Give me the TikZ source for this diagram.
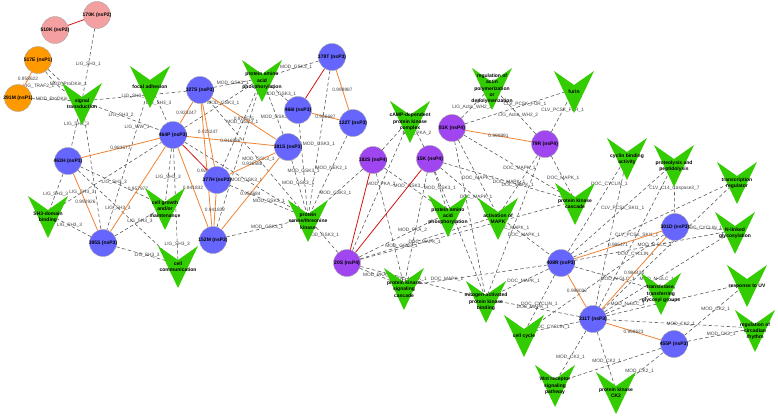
\documentclass[tikz,border=0pt]{standalone}
\usepackage{fontspec}
\setmainfont{Liberation Sans}
\definecolor{cblue}{RGB}{102,102,255}
\definecolor{cpurple}{RGB}{160,70,240}
\definecolor{cpink}{RGB}{244,160,160}
\definecolor{corange}{RGB}{255,153,0}
\definecolor{cgreen}{RGB}{51,204,0}
\definecolor{oline}{RGB}{240,130,50}
\definecolor{rline}{RGB}{210,20,20}
\pgfdeclarelayer{bg}
\pgfsetlayers{bg,main}
\tikzset{
  cnd/.style={circle,draw=black!35,line width=0.4pt,minimum size=27pt,inner sep=0pt},
  clab/.style={font=\fontsize{5}{6}\selectfont\bfseries,inner sep=0pt,text=black},
  chlab/.style={font=\fontsize{5}{6.3}\selectfont\bfseries,inner sep=0pt,align=center,text=black},
  elab/.style={font=\fontsize{4.8}{5}\selectfont,inner sep=0.5pt,text=black!75},
  dline/.style={draw=black!68,line width=0.55pt,dash pattern=on 3.5pt off 2.5pt},
  oln/.style={draw=oline,line width=0.8pt},
  rln/.style={draw=rline,line width=0.8pt}
}
\newcommand{\cnode}[5]{%
  \node[cnd,fill=#4] (#1) at (#2,#3) {};
  \node[clab] at (#2,#3) {#5};}
\newcommand{\chev}[4]{%
  \fill[cgreen] ({#2-20},#3) -- (#2,{#3+14}) -- ({#2+20},#3) -- (#2,{#3+42}) -- cycle;
  \coordinate (#1) at (#2,{#3+18});
  \node[chlab] at (#2,{#3+21}) {#4};}
\newcommand{\dedge}[4][0.5]{\draw[dline] (#2) -- node[elab,pos=#1]{#4} (#3);}
\newcommand{\oedge}[4][0.5]{\draw[oln] (#2) -- node[elab,pos=#1]{#4} (#3);}
\newcommand{\redge}[2]{\draw[rln] (#1) -- (#2);}
\begin{document}
\begin{tikzpicture}[x=1pt,y=-1pt]
\useasboundingbox (0,0) rectangle (778,416);
% chevrons
\chev{st}{82}{83}{signal\\transduction}
\chev{fa}{150}{66}{focal adhesion}
\chev{sh}{48}{196}{SH3-domain\\binding}
\chev{cg}{165}{188}{cell growth\\and/or\\maintenance}
\chev{cc}{178}{246}{cell\\communication}
\chev{pa}{262}{60}{protein amino\\acid\\phosphorylation}
\chev{ps}{308}{200}{protein\\serine/threonine\\kinase}
\chev{ca}{410}{101}{cAMP-dependent\\protein kinase\\complex}
\chev{ra}{492}{68}{regulation of\\actin\\polymerization\\or\\depolymerization}
\chev{fu}{574}{71}{furin}
\chev{pb}{448}{195}{protein amino\\acid\\phosphorylation}
\chev{am}{498}{198}{activation of\\MAPK}
\chev{pk}{575}{183}{protein kinase\\cascade}
\chev{pg}{404}{268}{protein kinase\\signaling\\cascade}
\chev{mb}{486}{281}{mitogen-activated\\protein kinase\\binding}
\chev{cy}{524}{315}{cell cycle}
\chev{wn}{555}{365}{Wnt receptor\\signaling\\pathway}
\chev{cb}{627}{138}{cyclin binding\\activity}
\chev{pp}{674}{145}{proteolysis and\\peptidolysis}
\chev{tr}{737}{162}{transcription\\regulator}
\chev{nl}{735}{212}{N-linked\\glycosylation}
\chev{tf}{661}{273}{transferase,\\transferring\\glycosyl groups}
\chev{uv}{747}{265}{response to UV}
\chev{rc}{755}{310}{regulation of\\circadian\\rhythm}
\chev{ck}{616}{372}{protein kinase\\CK2}
% circles
\cnode{c170K}{97}{15}{cpink}{170K (nsP2)}
\cnode{c510K}{55}{30}{cpink}{510K (nsP2)}
\cnode{c517E}{38}{60}{corange}{517E (nsP1)}
\cnode{c291M}{18}{98}{corange}{291M (nsP1)}
\cnode{c327S}{200}{90}{cblue}{327S (nsP3)}
\cnode{c464P}{173}{135}{cblue}{464P (nsP3)}
\cnode{c463H}{68}{161}{cblue}{463H (nsP3)}
\cnode{c395S}{103}{243}{cblue}{395S (nsP3)}
\cnode{c377H}{217}{180}{cblue}{377H (nsP3)}
\cnode{c152M}{213}{240}{cblue}{152M (nsP3)}
\cnode{c381S}{288}{147}{cblue}{381S (nsP3)}
\cnode{c466I}{298}{110}{cblue}{466I (nsP3)}
\cnode{c378T}{332}{57}{cblue}{378T (nsP3)}
\cnode{c122T}{353}{123}{cblue}{122T (nsP3)}
\cnode{c182S}{373}{160}{cpurple}{182S (nsP4)}
\cnode{c15K}{430}{159}{cpurple}{15K (nsP4)}
\cnode{c81K}{452}{128}{cpurple}{81K (nsP4)}
\cnode{c79R}{545}{144}{cpurple}{79R (nsP4)}
\cnode{c20S}{347}{263}{cpurple}{20S (nsP4)}
\cnode{c408R}{561}{263}{cblue}{408R (nsP3)}
\cnode{c301D}{675}{227}{cblue}{301D (nsP3)}
\cnode{c311T}{593}{319}{cblue}{311T (nsP3)}
\cnode{c455P}{674}{344}{cblue}{455P (nsP3)}
\begin{pgfonlayer}{bg}
% left cluster dashed
\dedge{c170K}{st}{LIG\_SH3\_1}
\draw[dline] (c517E) -- node[elab,pos=0.6,above=1.5pt]{MOD\_ProDKin\_1} (st);
\draw[dline] (c517E) to[bend right=14] node[elab,pos=0.3,below left=0pt]{LIG\_TRAF2\_1} (st);
\dedge[0.45]{c291M}{st}{MOD\_ProDKin\_1}
\dedge{st}{c327S}{LIG\_SH3\_3}
\dedge{st}{c464P}{LIG\_SH3\_2}
\dedge{st}{c463H}{LIG\_SH3\_3}
\dedge[0.7]{st}{c395S}{}
\dedge{fa}{c464P}{LIG\_SH3\_3}
\dedge[0.3]{fa}{c395S}{LIG\_WW\_3}
\dedge{c463H}{sh}{LIG\_SH3\_3}
\dedge{c395S}{sh}{LIG\_SH3\_3}
\dedge[0.3]{sh}{c464P}{LIG\_SH3\_3}
\dedge[0.4]{c463H}{cg}{LIG\_SH3\_3}
\dedge{c464P}{cg}{LIG\_SH3\_3}
\dedge{c395S}{cg}{LIG\_SH3\_3}
\dedge{c395S}{cc}{LIG\_SH3\_3}
\dedge[0.4]{c463H}{cc}{LIG\_SH3\_3}
\dedge[0.83]{c464P}{cc}{LIG\_SH3\_3}
% kinase cluster
\dedge{c464P}{pa}{MOD\_GSK3\_1}
\dedge[0.4]{c327S}{pa}{MOD\_GSK3\_1}
\dedge[0.4]{c378T}{pa}{MOD\_GSK3\_1}
\dedge[0.3]{c466I}{pa}{MOD\_GSK3\_1}
\dedge[0.3]{c381S}{pa}{MOD\_GSK3\_1}
\dedge{c377H}{pa}{MOD\_GSK3\_1}
\dedge{c152M}{pa}{}
\dedge{c464P}{ps}{MOD\_GSK3\_1}
\dedge{c327S}{ps}{MOD\_GSK3\_1}
\dedge{c377H}{ps}{MOD\_GSK3\_1}
\dedge{c152M}{ps}{MOD\_GSK3\_1}
\dedge[0.4]{c381S}{ps}{MOD\_GSK3\_1}
\dedge{c466I}{ps}{MOD\_GSK3\_1}
\dedge{c378T}{ps}{MOD\_GSK3\_1}
\dedge[0.4]{c122T}{ps}{MOD\_NEK2\_1}
\dedge{c182S}{ps}{MOD\_GSK3\_1}
\dedge{c20S}{ps}{MOD\_GSK3\_1}
% nsP4 cluster
\dedge{c15K}{ca}{MOD\_PKA\_2}
\dedge{c182S}{ca}{}
\dedge{c20S}{ca}{MOD\_PKA\_2}
\dedge[0.35]{c81K}{ra}{LIG\_Actin\_WH2\_2}
\dedge[0.4]{c79R}{ra}{LIG\_Actin\_WH2\_2}
\dedge[0.55]{c81K}{fu}{CLV\_PCSK\_FUR\_1}
\dedge{c79R}{fu}{CLV\_PCSK\_FUR\_1}
\dedge[0.4]{c15K}{pb}{MOD\_GSK3\_1}
\dedge[0.4]{c182S}{pb}{MOD\_GSK3\_1}
\dedge[0.6]{c20S}{pb}{MOD\_PKA\_2}
\dedge[0.62]{c15K}{am}{DOC\_MAPK\_1}
\dedge{c81K}{am}{DOC\_MAPK\_1}
\dedge{c79R}{am}{DOC\_MAPK\_1}
\dedge{c15K}{pk}{DOC\_MAPK\_1}
\dedge{c81K}{pk}{DOC\_MAPK\_1}
\dedge{c79R}{pk}{DOC\_MAPK\_1}
\dedge{c15K}{mb}{}
\dedge{c81K}{mb}{}
\dedge{c79R}{mb}{DOC\_MAPK\_1}
\dedge{c15K}{pg}{}
\dedge{c182S}{pg}{}
\dedge[0.4]{c20S}{pg}{MOD\_PKA\_2}
\dedge[0.3]{c20S}{pk}{DOC\_MAPK\_1}
\dedge[0.3]{c20S}{am}{MOD\_GSK3\_1}
\dedge[0.4]{c20S}{mb}{DOC\_MAPK\_1}
% right cluster
\dedge{am}{c408R}{DOC\_MAPK\_1}
\dedge[0.7]{c408R}{pg}{DOC\_MAPK\_1}
\dedge[0.4]{c408R}{mb}{DOC\_MAPK\_1}
\dedge{c408R}{cy}{DOC\_CYCLIN\_1}
\dedge{c311T}{cy}{DOC\_CYCLIN\_1}
\dedge{c311T}{mb}{DOC\_MAPK\_1}
\dedge[0.7]{c408R}{cb}{DOC\_CYCLIN\_1}
\dedge{c408R}{pp}{CLV\_PCSK\_SKI1\_1}
\dedge{c311T}{cb}{}
\dedge{c311T}{pp}{CLV\_PCSK\_SKI1\_1}
\dedge{c301D}{pp}{CLV\_C14\_Caspase3\_7}
\dedge[0.2]{c301D}{cy}{DOC\_CYCLIN\_1}
\dedge{c408R}{tr}{}
\dedge{c311T}{tr}{}
\dedge{c408R}{nl}{MOD\_N-GLC\_1}
\dedge[0.4]{c311T}{nl}{MOD\_N-GLC\_1}
\dedge[0.33]{c301D}{nl}{DOC\_CYCLIN\_1}
\dedge{c408R}{tf}{MOD\_N-GLC\_1}
\dedge[0.4]{c311T}{tf}{MOD\_N-GLC\_1}
\dedge{c311T}{uv}{}
\dedge{c455P}{uv}{MOD\_CK2\_1}
\dedge{c311T}{rc}{MOD\_CK2\_1}
\dedge{c455P}{rc}{MOD\_CK2\_1}
\dedge{c311T}{ck}{MOD\_CK2\_1}
\dedge{c455P}{ck}{MOD\_CK2\_1}
\dedge{c311T}{wn}{MOD\_CK2\_1}
\dedge{c455P}{wn}{}
% orange
\oedge{c517E}{c291M}{0.958622}
\oedge{c464P}{c463H}{0.983577}
\oedge{c463H}{c395S}{0.992926}
\oedge{c464P}{c395S}{0.957977}
\oedge{c464P}{c327S}{0.923247}
\oedge[0.45]{c327S}{c377H}{0.923247}
\oedge[0.55]{c327S}{c152M}{0.926968}
\oedge{c327S}{c381S}{0.973575}
\oedge{c464P}{c381S}{0.916986}
\oedge{c464P}{c152M}{0.941832}
\oedge{c377H}{c152M}{0.941832}
\oedge{c377H}{c381S}{0.936588}
\oedge{c152M}{c381S}{0.952684}
\oedge{c466I}{c122T}{0.966687}
\oedge{c378T}{c122T}{0.999987}
\oedge{c81K}{c79R}{0.999991}
\oedge{c408R}{c301D}{0.986471}
\oedge{c311T}{c301D}{0.984434}
\oedge{c408R}{c311T}{0.998032}
\oedge{c311T}{c455P}{0.998623}
% red
\redge{c510K}{c170K}
\redge{c464P}{c377H}
\redge{c378T}{c466I}
\redge{c182S}{c20S}
\redge{c15K}{c20S}
\end{pgfonlayer}
\end{tikzpicture}
\end{document}
